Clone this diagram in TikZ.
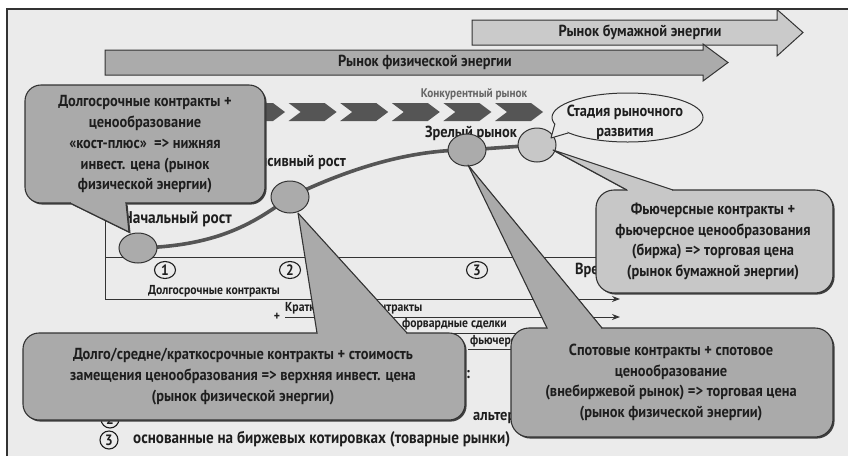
\documentclass[tikz,border=0pt]{standalone}
\usepackage{fontspec}
\newfontfamily\cf{PT Sans}[FakeStretch=0.9]
\usetikzlibrary{shapes.geometric,arrows.meta}
\definecolor{bg}{HTML}{EBEBEB}
\definecolor{ink}{HTML}{1E1E1E}
\definecolor{edge}{HTML}{333333}
\definecolor{paperfill}{HTML}{CACACA}
\definecolor{physfill}{HTML}{ABABAB}
\definecolor{chev}{HTML}{555555}
\definecolor{bubdark}{HTML}{AAAAAA}
\definecolor{bublight}{HTML}{C7C7C7}
\newcommand\bigf{\cf\bfseries\fontsize{16}{20.7}\selectfont}
\newcommand\smallf{\cf\bfseries\fontsize{13}{14}\selectfont}
% speech bubble: fill, box corners, corner radius, tail base, tail tip, tail base
\newcommand\bubble[7]{%
  \fill[black!75, shift={(1.6,1.6)}, rounded corners=#4] #2 rectangle #3;
  \fill[black!75, shift={(1.6,1.6)}] #5 -- #6 -- #7 -- cycle;
  \filldraw[fill=#1, draw=edge, line width=1.1pt, rounded corners=#4] #2 rectangle #3;
  \fill[#1] #5 -- #6 -- #7 -- cycle;
  \draw[#1, line width=2.8pt, shorten <=1.3pt, shorten >=1.3pt] #5 -- #7;
  \draw[edge, line width=1.1pt, line join=round] #5 -- #6 -- #7;
}
\tikzset{
  bigtxt/.style={font=\bigf, text=ink, inner sep=0pt},
  bubtxt/.style={font=\bigf, text=ink, align=center, inner sep=0pt},
  smalltxt/.style={font=\smallf, text=ink, inner sep=0pt},
  axisline/.style={draw=edge, line width=1pt},
  rowarrow/.style={draw=edge, line width=1pt, -{Stealth[length=8pt,width=6pt]}},
  stagebub/.style={ellipse, draw=edge, fill=physfill, line width=1pt, minimum width=38pt, minimum height=32pt, inner sep=0pt},
  numcirc/.style={ellipse, draw=ink, line width=1.1pt, minimum width=21pt, minimum height=17pt, inner sep=0pt, font=\cf\bfseries\fontsize{15}{15}\selectfont, text=ink},
  bandarrow/.style={draw=edge, line width=1pt, line join=miter}
}
\begin{document}
\begin{tikzpicture}[x=1pt,y=-1pt]
\useasboundingbox (0,0) rectangle (848,456);
\fill[white] (0,0) rectangle (848,456);
\fill[bg] (7,9) rectangle (848,456);
\draw[edge, line width=1.4pt] (7,456) -- (7,9) -- (848,9);

% market band arrows
\filldraw[bandarrow, fill=paperfill] (472,20) -- (777,20) -- (777,9.5) -- (803,32.5) -- (777,56) -- (777,45) -- (472,45) -- cycle;
\node[bigtxt] (paper) at (640,32) {Рынок бумажной энергии};
\filldraw[bandarrow, fill=physfill] (105,50) -- (703,50) -- (703,44) -- (728,62.5) -- (703,81) -- (703,75) -- (105,75) -- cycle;
\node[bigtxt] (phys) at (425,62) {Рынок физической энергии};

% chevron band
\foreach \k in {0,...,7}{
  \pgfmathsetmacro\t{543-51.6*\k}
  \fill[chev] (\t-48,103) -- (\t-12,103) -- (\t,112) -- (\t-12,121) -- (\t-48,121) -- (\t-36,112) -- cycle;
}
\node[font=\cf\bfseries\fontsize{12.5}{14}\selectfont, text=black!60, inner sep=0pt] (compet) at (474,94) {Конкурентный рынок};

% axes and contract rows
\draw[axisline] (105,110) -- (105,299);
\draw[axisline] (105,257) -- (625,257);
\draw[rowarrow] (105,299) -- (620,299);
\draw[rowarrow] (285,317) -- (620,317);
\draw[rowarrow] (400,333) -- (620,333);
\draw[rowarrow] (468,349) -- (620,349);
\node[smalltxt, anchor=west] (rowa) at (148,291) {Долгосрочные контракты};
\node[smalltxt] (plusb) at (277,317) {+};
\node[smalltxt, anchor=west] (rowb) at (285,308) {Краткосрочные контракты};
\node[smalltxt] (plusc) at (393,333) {+};
\node[smalltxt, anchor=west] (rowc) at (402,324) {форвардные сделки};
\node[smalltxt, anchor=west] (rowd) at (470,341) {фьючерсы};
\node[numcirc] (n1) at (165,270) {1};
\node[numcirc] (n2) at (290,270) {2};
\node[numcirc] (n3) at (477,270) {3};
\node[bigtxt, anchor=west] (time) at (575,270) {Время};

% stage labels
\node[bigtxt, font=\cf\bfseries\fontsize{17}{20}\selectfont, anchor=east] (lstart) at (232,219) {Начальный рост};
\node[bigtxt, anchor=east] (lgrow) at (346,162) {Интенсивный рост};
\node[bigtxt] (lmature) at (471,133) {Зрелый рынок};

% development curve
\coordinate (p1) at (138,248);
\coordinate (p2) at (290,197);
\coordinate (p3) at (467,150);
\coordinate (p4) at (537,145);
\draw[chev, line width=3.6pt] (p1) .. controls (220,246) and (255,222) .. (p2)
  .. controls (350,168) and (410,150) .. (p3) -- (p4);
\node[stagebub, minimum height=30pt] (c1) at (p1) {};
\node[stagebub] (c2) at (p2) {};
\node[stagebub] (c3) at (p3) {};
\node[stagebub, fill=bublight, minimum height=34pt] (c4) at (p4) {};

% stage caption bubble
\node[ellipse, draw=edge, fill=bg, line width=1pt, minimum width=151pt, minimum height=49pt, inner sep=0pt] (stage) at (627.5,117.5) {};
\fill[bg] (555.5,123) -- (551,138) -- (568,132.5) -- (562,126) -- cycle;
\draw[edge, line width=1pt, line join=round] (555,123.5) -- (551,138) -- (568,133);
\node[bubtxt, font=\bigf\fontsize{16}{20}\selectfont] (stagetxt) at (625,122) {Стадия рыночного\\развития};

% pricing lists
\node[bigtxt] (colon) at (468,375) {:};
\node[numcirc, minimum width=18pt, minimum height=18pt] (b2) at (110,419) {2};
\node[bigtxt, anchor=west] (l2) at (473,418) {альтернатив};
\node[numcirc, minimum width=18pt, minimum height=18pt] (b3) at (109,440) {3};
\node[bigtxt, font=\cf\bfseries\fontsize{16.8}{20}\selectfont, anchor=west] (l3) at (133,439) {основанные на биржевых котировках (товарные рынки)};

% callouts
\bubble{bubdark}{(25,85)}{(265,203)}{16pt}{(70,203)}{(129,232)}{(126,203)}
\node[bubtxt] (t1) at (145,144.5) {Долгосрочные контракты +\\ценообразование\\«кост-плюс»\ \ => нижняя\\инвест. цена (рынок\\физической энергии)};

\bubble{bubdark}{(23,333)}{(465,420)}{16pt}{(317,333)}{(298,213)}{(407,333)}
\node[bubtxt] (t2) at (243,376.5) {Долго/средне/краткосрочные контракты + стоимость\\замещения ценообразования => верхняя инвест. цена\\(рынок физической энергии)};

\bubble{bublight}{(596,190)}{(833,293)}{18pt}{(627,190)}{(553,150)}{(673,190)}
\node[bubtxt] (t3) at (713,241.5) {Фьючерсные контракты +\\фьючерсное ценообразования\\(биржа) => торговая цена\\(рынок бумажной энергии)};

\bubble{bubdark}{(511,328)}{(833,437)}{18pt}{(547,328)}{(468,165)}{(602,328)}
\node[bubtxt] (t4) at (671,382.5) {Спотовые контракты + спотовое\\ценообразование\\(внебиржевой рынок) => торговая цена\\(рынок физической энергии)};
\end{tikzpicture}
\end{document}
